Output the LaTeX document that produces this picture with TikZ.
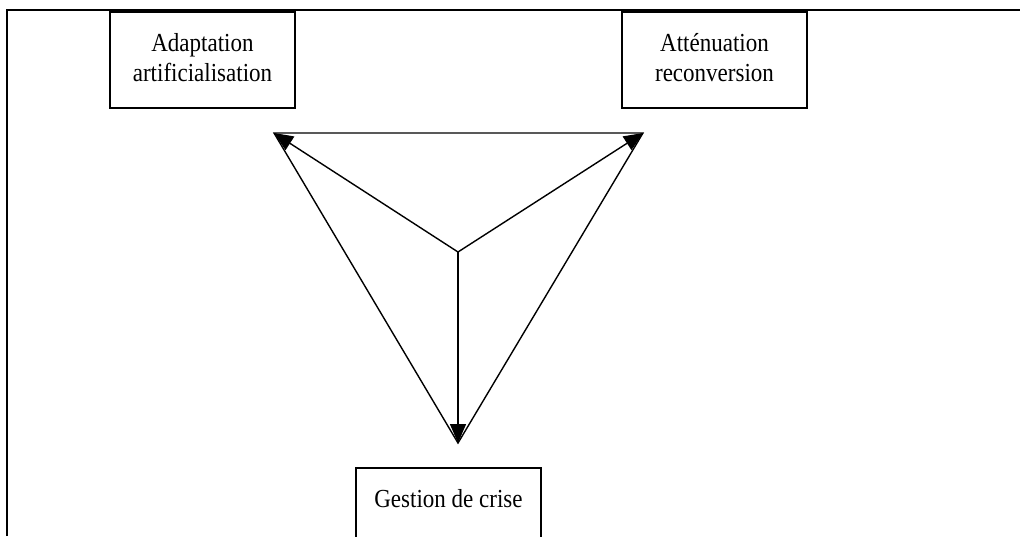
\documentclass[tikz,border=0pt]{standalone}
\usepackage{fontspec}
\setmainfont{Liberation Serif}
\usepackage{tikz}
\usetikzlibrary{arrows.meta}

\newcommand{\boxlines}[2]{\raisebox{3pt}{\scalebox{0.885}[1]{\begin{tabular}{@{}c@{}}#1\\#2\end{tabular}}}}

\begin{document}
\begin{tikzpicture}[x=1pt,y=-1pt,
  box/.style={draw, line width=1.6pt, minimum width=185pt, minimum height=96pt,
    align=center, inner sep=0pt, font=\fontsize{26}{30}\selectfont},
  >={Triangle[length=19pt,width=16pt]}]

\useasboundingbox (0,0) rectangle (1020,536);

\draw[line width=1.7pt] (7,536) -- (7,10) -- (1020,10);

\node[box] (adapt) at (202.5,60) {\boxlines{Adaptation}{artificialisation}};

\node[box] (atten) at (714.5,60) {\boxlines{Atténuation}{reconversion}};

\node[box] (crise) at (448.5,516) {\boxlines{Gestion de crise}{\mbox{}}};

\coordinate (a) at (274,133);
\coordinate (b) at (643,133);
\coordinate (c) at (458,443);
\coordinate (m) at (458,252);

\draw[line width=1.4pt] (a) -- (b) -- (c) -- cycle;
\draw[line width=1.4pt][->] (m) -- (a);
\draw[line width=1.4pt][->] (m) -- (b);
\draw[line width=1.4pt][->] (m) -- (c);

\end{tikzpicture}
\end{document}
